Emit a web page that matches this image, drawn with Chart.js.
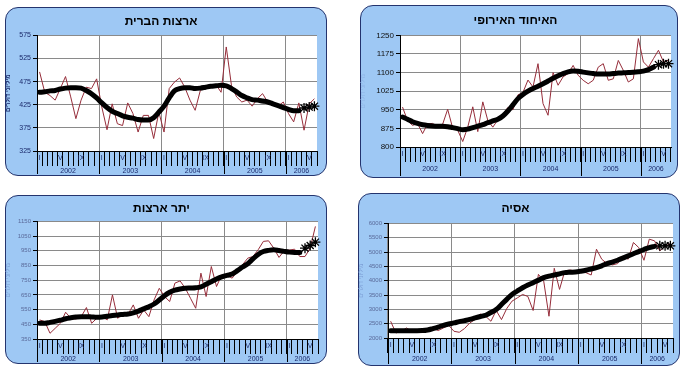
<!DOCTYPE html>
<html><head><meta charset="utf-8">
<script src="https://cdn.jsdelivr.net/npm/chart.js@4.4.1/dist/chart.umd.min.js"></script>
<style>
html,body{margin:0;padding:0;background:#fff;}
body{width:687px;height:373px;overflow:hidden;position:relative;font-family:"Liberation Sans","DejaVu Sans",sans-serif;}
.panel{position:absolute;background:#9ec8f4;border:1px solid #24346e;border-radius:13px;box-sizing:border-box;}
.panel canvas{position:absolute;left:-1px;top:-1px;}
</style></head><body>
<div class="panel" style="left:5px;top:7px;width:322px;height:169px"><canvas id="c1" width="322" height="169"></canvas></div>
<div class="panel" style="left:360px;top:5px;width:318px;height:173px"><canvas id="c2" width="318" height="173"></canvas></div>
<div class="panel" style="left:5px;top:195px;width:322px;height:169px"><canvas id="c3" width="322" height="169"></canvas></div>
<div class="panel" style="left:358px;top:193px;width:322px;height:173px"><canvas id="c4" width="322" height="173"></canvas></div>
<script>
// ---- categories / tick labels ----
const years = ['2002','2003','2004','2005','2006'];
const monthsInYear = [12,12,12,12,6];
const monthTicks = ['I','','','','V','','','','IX','','',''];
const yTitle = 'מיליוני דולרים';

// ---- ארצות הברית ----
const usTitle = 'ארצות הברית';
const usRaw = [496,452,445,435,460,486,442,395,435,463,460,481,420,371,427,384,380,429,406,366,402,402,352,409,366,460,474,483,463,435,413,456,462,465,469,452,550,467,442,431,435,422,438,449,431,426,422,431,406,388,429,370,427,438];
const usTrend = [452,453,455,456,459,461,462,462,461,456,449,440,429,419,411,406,401,398,396,393,392,392,397,409,422,440,455,460,462,462,460,461,463,465,466,467,466,460,453,445,440,436,435,433,431,427,423,419,415,412,412];
const usForecast = [418,420,422];

// ---- האיחוד האירופי ----
const euTitle = 'האיחוד האירופי';
const euRaw = [961,907,887,895,854,893,895,881,892,952,876,868,822,880,962,862,982,907,880,910,930,960,950,1010,1020,1070,1042,1136,975,928,1100,1049,1083,1096,1129,1089,1069,1055,1069,1122,1136,1069,1075,1149,1109,1062,1075,1237,1143,1122,1156,1190,1143,1150];
const euTrend = [921,912,902,895,890,887,885,884,884,882,878,874,870,872,878,884,890,898,905,912,925,945,970,995,1012,1025,1036,1045,1055,1066,1077,1087,1096,1103,1106,1105,1102,1099,1096,1094,1094,1094,1096,1098,1099,1100,1101,1103,1106,1112,1122];
const euForecast = [1132,1136,1136];

// ---- יתר ארצות ----
const rwTitle = 'יתר ארצות';
const rwRaw = [480,468,389,423,457,532,491,486,502,564,457,491,502,480,650,491,518,518,582,491,548,502,616,695,639,605,730,745,695,627,559,798,639,843,707,786,782,764,809,855,900,911,957,1014,1018,968,905,950,955,961,911,911,968,1116];
const rwTrend = [457,457,463,470,478,488,494,499,502,502,500,498,500,505,510,514,517,520,528,540,555,570,588,615,645,668,683,690,695,697,699,705,722,740,758,772,783,792,815,840,862,895,925,945,953,957,952,946,941,939,939];
const rwForecast = [968,986,1009];

// ---- אסיה ----
const asTitle = 'אסיה';
const asRaw = [2585,2175,2234,2350,2234,2290,2260,2290,2350,2260,2350,2444,2234,2200,2330,2526,2643,2842,2760,2585,2960,2643,3029,3287,3400,3520,3450,2960,4222,3988,2760,4433,3696,4339,4374,4339,4300,4281,4199,5099,4749,4596,4550,4596,4865,4749,5333,5158,4713,5450,5392,5041,5200,5300];
const asTrend = [2257,2257,2257,2257,2257,2257,2260,2280,2327,2380,2444,2490,2526,2570,2608,2650,2702,2750,2795,2890,2994,3170,3350,3520,3640,3754,3850,3930,4020,4105,4160,4199,4240,4281,4295,4304,4330,4363,4410,4456,4520,4596,4650,4713,4790,4865,4940,5017,5090,5158,5200];
const asForecast = [5216,5216,5216];

const categories = [];
years.forEach((y,yi)=>{ for(let m=0;m<monthsInYear[yi];m++) categories.push(monthTicks[m]); });
const N = categories.length;
const FONT = '"Liberation Sans","DejaVu Sans",sans-serif';

const bgPlugin = {
  id:'plotbg',
  beforeDraw(chart){
    const a = chart.chartArea, c = chart.ctx;
    c.save(); c.fillStyle = '#ffffff'; c.fillRect(a.left, a.top, a.right-a.left, a.bottom-a.top); c.restore();
  },
  afterDraw(chart){
    const x = chart.scales.x, a = chart.chartArea, c = chart.ctx;
    const half = (x.getPixelForValue(1) - x.getPixelForValue(0)) / 2;
    c.save();
    c.strokeStyle = '#000'; c.lineWidth = 1;
    let start = 0;
    c.fillStyle = '#1b2a6b';
    c.font = '7px ' + FONT;
    c.textAlign = 'center'; c.textBaseline = 'middle';
    years.forEach((y,yi)=>{
      const l = x.getPixelForValue(start) - half;
      const r = x.getPixelForValue(start + monthsInYear[yi] - 1) + half;
      c.beginPath(); c.moveTo(Math.round(l)+0.5, a.bottom); c.lineTo(Math.round(l)+0.5, chart.height-2); c.stroke();
      c.fillText(y, (l+r)/2, a.bottom + chart.$yearOffset);
      start += monthsInYear[yi];
    });
    c.restore();
  }
};

function makeChart(id, cfg){
  const raw = cfg.raw, trend = cfg.trend;
  const fc = new Array(trend.length).fill(null).concat(cfg.forecast);
  const ch = new Chart(document.getElementById(id), {
    type:'line',
    data:{
      labels: categories,
      datasets:[
        {data: raw, borderColor:'#962d3a', borderWidth:1, pointRadius:0, tension:0, order:3},
        {data: trend, borderColor:'#000', borderWidth:5, pointRadius:0, cubicInterpolationMode:'monotone', borderCapStyle:'round', order:2},
        {data: fc, showLine:false, pointStyle:'star', pointRadius:5, borderColor:'#000', borderWidth:1.3, backgroundColor:'#000', order:1}
      ]
    },
    options:{
      responsive:false, animation:false, devicePixelRatio:1,
      layout:{padding:{left:0, right:cfg.padRight, bottom:0, top:0}},
      plugins:{
        legend:{display:false}, tooltip:{enabled:false},
        title:{display:true, text:cfg.title, color:'#000',
          font:{family:FONT, size:12, weight:'bold', lineHeight:1.2},
          padding:{top:cfg.titleTop, bottom:cfg.titleBottom}}
      },
      scales:{
        x:{
          offset:true,
          grid:{offset:true, drawOnChartArea:true, lineWidth:1,
            color: c => (c.index % 12 === 0 || c.index === N) ? '#8a8a8a' : 'rgba(0,0,0,0)',
            tickColor:'#000', tickLength:15},
          border:{color:'#000', width:1},
          ticks:{autoSkip:false, maxRotation:0, minRotation:0, padding:-12, color:'#1b2a6b',
            font:{family:FONT, size:7}},
          afterFit: s => { s.height = cfg.xh; }
        },
        y:{
          min:cfg.min, max:cfg.max,
          ticks:{stepSize:cfg.step, color:cfg.tickColor, padding:2,
            callback: v => String(v),
            font:{family:FONT, size:cfg.tickSize}},
          grid:{color:'#8a8a8a', tickColor:'#000', tickLength:4},
          border:{color:'#000', width:1},
          title:{display:true, text:yTitle, color:cfg.yTitleColor, padding:{top:0,bottom:2},
            font:{family:FONT, size:6, weight:cfg.yTitleWeight}},
          afterFit: s => { s.width = cfg.yw; }
        }
      }
    },
    plugins:[bgPlugin]
  });
  ch.$yearOffset = cfg.yearOff;
  ch.draw();
  return ch;
}

makeChart('c1', {title:usTitle, raw:usRaw, trend:usTrend, forecast:usForecast, min:325, max:575, step:50,
  yw:32, xh:25, padRight:10, titleTop:7, titleBottom:7, tickSize:7, tickColor:'#1b2a6b', yTitleColor:'#1b2a6b', yTitleWeight:'bold', yearOff:20});
makeChart('c2', {title:euTitle, raw:euRaw, trend:euTrend, forecast:euForecast, min:800, max:1250, step:75,
  yw:40, xh:31, padRight:7, titleTop:8, titleBottom:8, tickSize:8, tickColor:'#111', yTitleColor:'#8fb4e6', yTitleWeight:'normal', yearOff:22});
makeChart('c3', {title:rwTitle, raw:rwRaw, trend:rwTrend, forecast:rwForecast, min:350, max:1150, step:100,
  yw:32, xh:25, padRight:9, titleTop:6, titleBottom:6, tickSize:6, tickColor:'#5a6a9a', yTitleColor:'#7d9fd6', yTitleWeight:'normal', yearOff:20});
makeChart('c4', {title:asTitle, raw:asRaw, trend:asTrend, forecast:asForecast, min:2000, max:6000, step:500,
  yw:30, xh:28, padRight:7, titleTop:8, titleBottom:8, tickSize:6, tickColor:'#5a6a9a', yTitleColor:'#7d9fd6', yTitleWeight:'normal', yearOff:21});
</script>
</body></html>
